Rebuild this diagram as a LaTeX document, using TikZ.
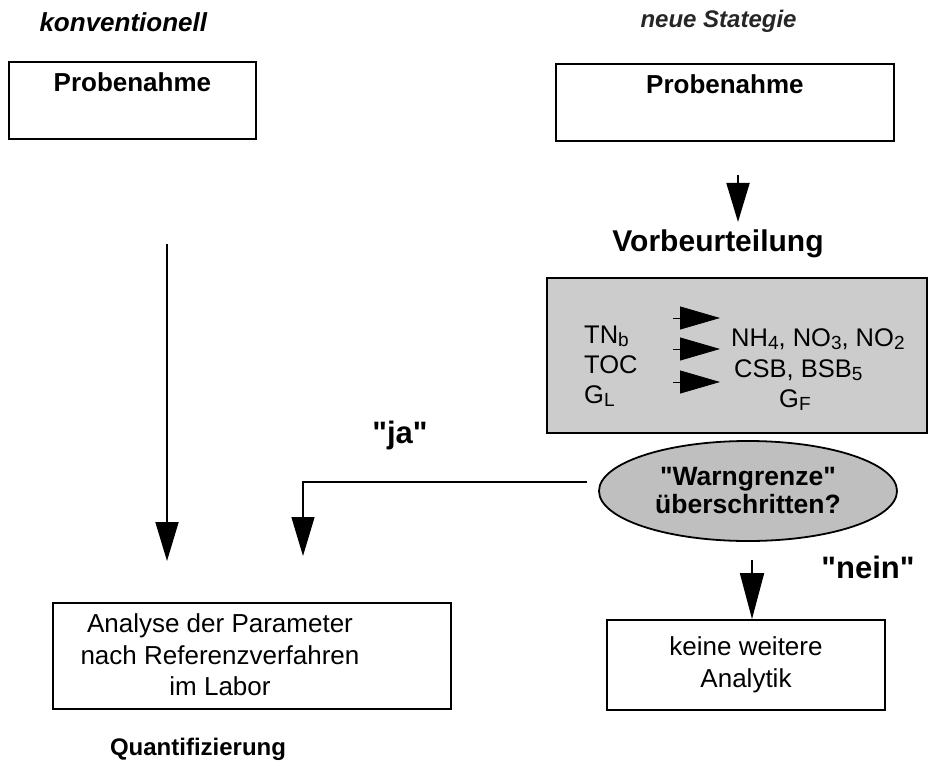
\documentclass[tikz,border=0pt]{standalone}
\usepackage{fontspec}
\setmainfont{Liberation Sans}
\usetikzlibrary{arrows.meta,shapes.geometric,positioning}
\newcommand{\idx}[1]{\raisebox{-0.14em}{\fontsize{19}{20}\selectfont #1}}
\begin{document}
\begin{tikzpicture}[x=1pt, y=-1pt, >={Triangle[length=39pt,width=23pt]},
  box/.style={draw, line width=1.8pt, inner sep=0pt},
  topbox/.style={box, anchor=north west, minimum width=#1, text height=21pt,
    text depth=38pt, inner ysep=9pt, font=\bfseries\fontsize{26}{30}\selectfont},
  titel/.style={anchor=base west, font=\bfseries\itshape\fontsize{26}{30}\selectfont},
  param/.style={anchor=base west, inner sep=1pt, font=\fontsize{25.5}{28}\selectfont},
  antwort/.style={anchor=base, font=\bfseries\fontsize{31}{36}\selectfont},
  pfeil/.style={->, line width=1.8pt}]
\useasboundingbox (0,0) rectangle (928,762);

% 1. Überschriften der beiden Wege
\node[titel] (konv) at (36,32) {konventionell};
\node[titel, font=\bfseries\itshape\fontsize{24}{28}\selectfont, text=black!85] (neu) at (637,28) {neue Stategie};

% 2. Probenahme (links und rechts)
\node[topbox=247pt] (probeL) at (8,61) {Probenahme};
\node[topbox=338pt] (probeR) at (555,63) {Probenahme};

% 3. Vorbeurteilung mit grauem Kasten
\coordinate (neuA) at (738,175);
\coordinate (neuB) at (738,222);
\draw[pfeil] (neuA) -- (neuB);
\node[anchor=base, font=\bfseries\fontsize{30}{36}\selectfont] (vorb) at (718,251) {Vorbeurteilung};

\node[box, fill=black!20, anchor=north west, minimum width=380pt, minimum height=155pt] (grau) at (546,277) {};
\node[param] (tn) at (583,343) {TN\idx{b}};
\node[param] (toc) at (583,373) {TOC};
\node[param] (gl) at (583,403) {G\idx{L}};
\node[param] (nh) at (730,346) {NH\idx{4}, NO\idx{3}, NO\idx{2}};
\node[param] (csb) at (733,377) {CSB, BSB\idx{5}};
\node[param] (gf) at (778,407) {G\idx{F}};
\foreach \y [count=\i] in {318,349,382}{
  \coordinate (pa\i) at (673,\y);
  \coordinate (pb\i) at (720,\y);
  \draw[-{Triangle[length=40pt,width=23pt]}, line width=0.8pt] (pa\i) -- (pb\i);
}

% 4. Entscheidung Warngrenze
\node[ellipse, draw, line width=1.8pt, fill=black!25, minimum width=298pt, minimum height=100pt,
  inner sep=0pt, align=center, font=\bfseries\fontsize{26.5}{28}\selectfont] (warn) at (748,491)
  {\textquotedbl Warngrenze\textquotedbl\\überschritten?};

% 5. Zweig "ja"
\node[antwort] (ja) at (400,443) {\textquotedbl ja\textquotedbl};
\coordinate (jaknick) at (303,482);
\coordinate (jaende) at (303,556);
\draw[pfeil, line width=1.3pt, shorten <=11pt] (warn.west |- jaknick) -- (jaknick) -- (jaende);

% 6. konventioneller Weg
\coordinate (konvA) at (167,244);
\coordinate (konvB) at (167,561);
\draw[pfeil] (konvA) -- (konvB);

% 7. Analyse im Labor
\node[box, minimum width=398pt, minimum height=106pt] (analyse) at (252,656) {};
\node[align=center, font=\fontsize{26}{31.5}\selectfont] (analyseTxt) at (220,655)
  {Analyse der Parameter\\nach Referenzverfahren\\im Labor};
\node[anchor=base, font=\bfseries\fontsize{24}{28}\selectfont] (quant) at (198,755) {Quantifizierung};

% 8. Zweig "nein"
\node[antwort] (nein) at (868,578) {\textquotedbl nein\textquotedbl};
\node[box, minimum width=278pt, minimum height=90pt, align=center,
  font=\fontsize{26}{32}\selectfont] (keine) at (746,665) {keine weitere\\Analytik};
\coordinate (neinA) at (752,560);
\draw[pfeil, -{Triangle[length=46pt,width=24pt]}] (neinA) -- (keine.north -| neinA);
\end{tikzpicture}
\end{document}
